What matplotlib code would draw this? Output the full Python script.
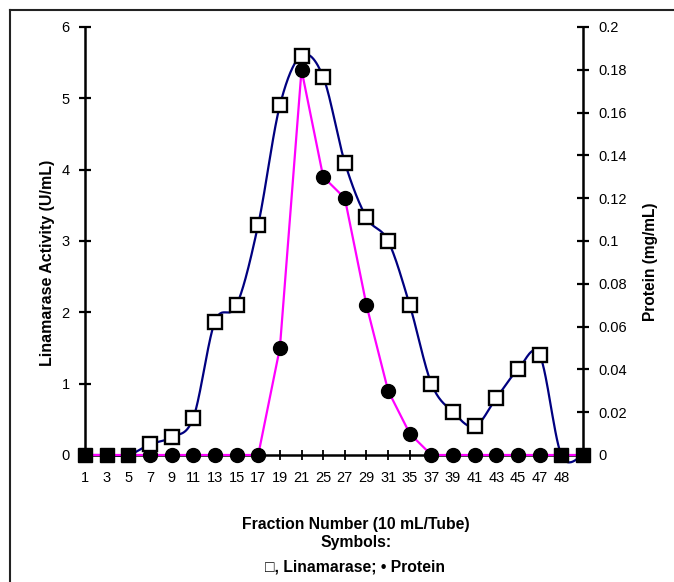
import numpy as np
import matplotlib
matplotlib.use("Agg")
import matplotlib.pyplot as plt
from matplotlib.lines import Line2D

plt.rcParams['font.family'] = ['Liberation Sans', 'DejaVu Sans']

# fraction numbers (last category has no label, sits on the right axis)
fractions = ['1', '3', '5', '7', '9', '11', '13', '15', '17', '19', '21', '25',
             '27', '29', '31', '35', '37', '39', '41', '43', '45', '47', '48', '']
linamarase = [0, 0, 0, 0.15, 0.25, 0.52, 1.87, 2.1, 3.23, 4.9, 5.6, 5.3,
              4.1, 3.33, 3.0, 2.1, 1.0, 0.6, 0.4, 0.8, 1.2, 1.4, 0, 0]
protein = [0, 0, 0, 0, 0, 0, 0, 0, 0, 0.05, 0.18, 0.13,
           0.12, 0.07, 0.03, 0.01, 0, 0, 0, 0, 0, 0, 0, 0]

navy = '#000080'
magenta = '#ff00ff'


def smooth_curve(x, y, n=30):
    # excel style smoothed line (bezier, tangents from neighbours / 6)
    x = np.asarray(x, float)
    y = np.asarray(y, float)
    px = np.concatenate([[x[0]], x, [x[-1]]])
    py = np.concatenate([[y[0]], y, [y[-1]]])
    xs, ys = [], []
    t = np.linspace(0, 1, n)
    for i in range(1, len(px) - 2):
        p0 = np.array([px[i], py[i]])
        p3 = np.array([px[i + 1], py[i + 1]])
        c1 = p0 + (p3 - np.array([px[i - 1], py[i - 1]])) / 6
        c2 = p3 - (np.array([px[i + 2], py[i + 2]]) - p0) / 6
        b = ((1 - t) ** 3)[:, None] * p0 + (3 * (1 - t) ** 2 * t)[:, None] * c1 \
            + (3 * (1 - t) * t ** 2)[:, None] * c2 + (t ** 3)[:, None] * p3
        xs.append(b[:, 0])
        ys.append(b[:, 1])
    return np.concatenate(xs), np.concatenate(ys)


fig = plt.figure(figsize=(6.74, 5.82), dpi=100)
ax = fig.add_axes([85 / 674, 1 - 455 / 582, 498 / 674, 428 / 582])
ax2 = ax.twinx()

idx = np.arange(len(fractions))

sx, sy = smooth_curve(idx, linamarase)
ax.plot(sx, sy, color=navy, lw=1.6, clip_on=False)

# protein line + markers on the right axis (drawn above the blue curve)
ax2.plot(idx, protein, color=magenta, lw=1.6, clip_on=False, zorder=3)
prot = np.array(protein)
lin = np.array(linamarase)
circ = (lin > 0) | (prot > 0)
ax2.plot(idx[circ], prot[circ], 'o', color='black', ms=10, clip_on=False, zorder=4)
# linamarase markers: open squares, filled where both series are zero
ax2.plot(idx[lin > 0], lin[lin > 0], 's', mfc='white', mec='black', mew=1.7,
         ms=9.5, transform=ax.transData, clip_on=False, zorder=5)
ax2.plot(idx[~circ], lin[~circ], 's', color='black', ms=10,
         transform=ax.transData, clip_on=False, zorder=5)

ax.set_xlim(0, len(fractions) - 1)
ax.set_ylim(0, 6)
ax2.set_ylim(0, 0.2)

ax.set_xticks(idx)
ax.set_xticklabels(fractions)
ax.set_yticks(range(0, 7))
ax2.set_yticks([0, 0.02, 0.04, 0.06, 0.08, 0.1, 0.12, 0.14, 0.16, 0.18, 0.2])
ax2.set_yticklabels(['0', '0.02', '0.04', '0.06', '0.08', '0.1', '0.12',
                     '0.14', '0.16', '0.18', '0.2'])

for a in (ax, ax2):
    for s in a.spines.values():
        s.set_visible(False)
    a.patch.set_visible(False)
ax.spines['left'].set_visible(True)
ax.spines['bottom'].set_visible(True)
ax2.spines['right'].set_visible(True)
for s in (ax.spines['left'], ax.spines['bottom'], ax2.spines['right']):
    s.set_linewidth(1.8)

ax.tick_params(axis='x', direction='inout', length=7, width=1.3, labelsize=10.5, pad=8)
ax.tick_params(axis='y', direction='inout', length=8, width=1.6, labelsize=10.5, pad=7)
ax2.tick_params(axis='y', direction='inout', length=8, width=1.6, labelsize=10.5, pad=7)

ax.set_ylabel('Linamarase Activity (U/mL)', fontsize=11.5, fontweight='bold')
ax.yaxis.set_label_coords(-0.060, 0.449)
ax2.set_ylabel('Protein (mg/mL)', fontsize=11.2, fontweight='bold')
ax2.yaxis.set_label_coords(1.12, 0.451)

fig.text(356 / 674, 1 - 524 / 582, 'Fraction Number (10 mL/Tube)', ha='center', va='center',
         fontsize=11.3, fontweight='bold')
fig.text(356 / 674, 1 - 542 / 582, 'Symbols:', ha='center', va='center',
         fontsize=11.3, fontweight='bold')
fig.text(355 / 674, 1 - 567 / 582, '\u25a1, Linamarase; \u2022 Protein', ha='center', va='center',
         fontsize=11.3, fontweight='bold')

# outer frame (top and left edges visible)
fig.add_artist(Line2D([10 / 674, 1.01], [1 - 9.5 / 582, 1 - 9.5 / 582], color='#222222', lw=1.5))
fig.add_artist(Line2D([10 / 674, 10 / 674], [1 - 9.5 / 582, -0.01], color='#222222', lw=1.5))

fig.savefig('out.png', dpi=100)
